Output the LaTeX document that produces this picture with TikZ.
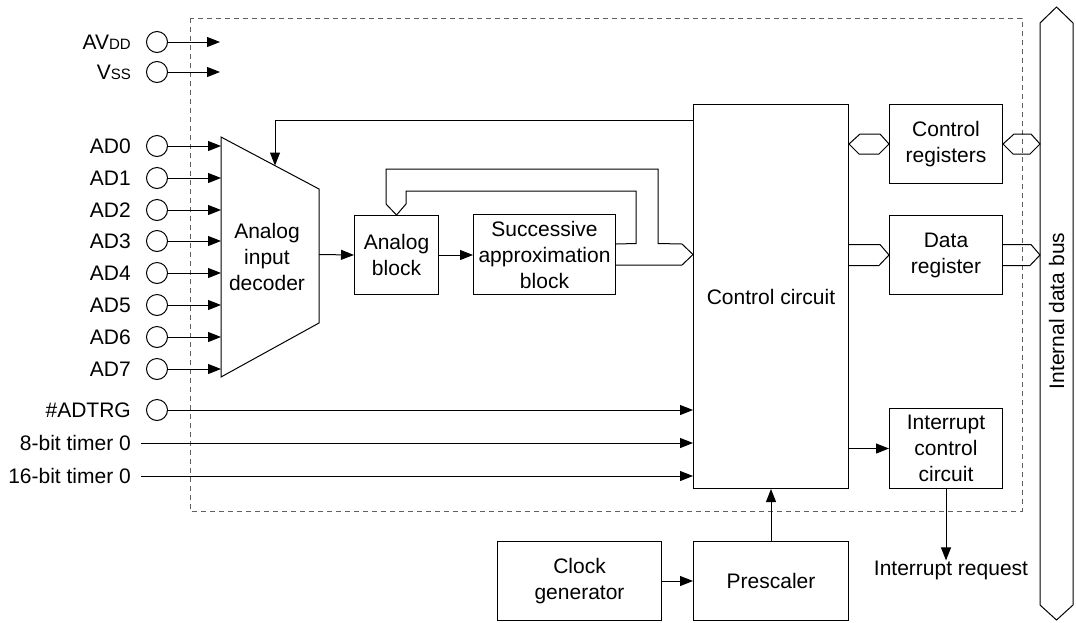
\documentclass[tikz,border=0pt]{standalone}
\usepackage{fontspec}
\setmainfont{Liberation Sans}
\usetikzlibrary{arrows.meta,calc}
\begin{document}
\begin{tikzpicture}[x=1pt,y=-1pt,
  every node/.style={font=\fontsize{21}{26}\selectfont, inner sep=0pt},
  blk/.style={draw, line width=1pt, anchor=north west, align=center},
  pin/.style={circle, draw, line width=1pt, minimum size=21pt, inner sep=0pt},
  ln/.style={line width=1pt},
  arr/.style={line width=1pt, -{Triangle[length=13pt,width=10pt]}},
  dbox/.style={draw=gray!75!black, line width=1pt, dash pattern=on 5pt off 4pt}
]
\useasboundingbox (0,0) rectangle (1076,622);

% dashed module boundary
\draw[dbox] (190,18) rectangle (1022,511);

% internal data bus
\draw[ln] (1040,23) -- (1056.5,7) -- (1073,23) -- (1073,605) -- (1056.5,620) -- (1040,605) -- cycle;
\node[rotate=90] (bus) at (1056.5,311) {Internal data bus};
\coordinate (busL) at (1040,0);

% blocks
\node[blk, minimum width=155pt, minimum height=384pt] (cc) at (693,104) {Control circuit};
\node[blk, minimum width=113pt, minimum height=79pt] (creg) at (889,104) {Control\\registers};
\node[blk, minimum width=113pt, minimum height=79pt] (dreg) at (889,215) {Data\\register};
\node[blk, minimum width=113pt, minimum height=80pt] (intc) at (889,408) {Interrupt\\control\\circuit};
\node[blk, minimum width=84pt, minimum height=79pt] (ab) at (354,215) {Analog\\block};
\node[blk, minimum width=142pt, minimum height=80pt] (sa) at (473,214) {Successive\\approximation\\block};
\node[blk, minimum width=164pt, minimum height=79pt] (clk) at (497,541) {Clock\\generator};
\node[blk, minimum width=155pt, minimum height=79pt] (pre) at (693,541) {Prescaler};

% analog input decoder (trapezoid)
\draw[line width=1pt] (221,137) -- (319,189) -- (319,323) -- (221,377) -- cycle;
\node[align=center] (dec) at (267,257) {Analog\\input\\decoder};
\coordinate (decL) at (221,0);
\coordinate (decout) at (319,254.5);
\coordinate (fbtip) at (275,165.5);
\coordinate (fbrow) at (0,120);

% power pins
\node[anchor=east] (lavdd) at (131,42) {AV{\fontsize{15}{15}\selectfont DD}};
\node[pin] (pavdd) at (157,42) {};
\coordinate (eavdd) at (220,42);
\draw[arr] (pavdd) -- (eavdd);
\node[anchor=east] (lvss) at (131,72) {V{\fontsize{15}{15}\selectfont SS}};
\node[pin] (pvss) at (157,72) {};
\coordinate (evss) at (220,72);
\draw[arr] (pvss) -- (evss);

% analog inputs
\foreach \i/\y in {0/146,1/178,2/210,3/241,4/273,5/305,6/337,7/369}{
  \node[anchor=east] (lad\i) at (131,\y) {AD\i};
  \node[pin] (pad\i) at (157,\y) {};
  \draw[arr] (pad\i) -- (pad\i -| decL);
}

% trigger and timers
\node[anchor=east] (ladtrg) at (131,410) {\#ADTRG};
\node[pin] (padtrg) at (157,410) {};
\draw[arr] (padtrg) -- (padtrg -| cc.west);
\node[anchor=east] (lt8) at (131,443) {8-bit timer 0};
\coordinate (st8) at (141,443);
\draw[arr] (st8) -- (st8 -| cc.west);
\node[anchor=east] (lt16) at (131,476) {16-bit timer 0};
\coordinate (st16) at (141,476);
\draw[arr] (st16) -- (st16 -| cc.west);

% control -> decoder
\draw[arr] (cc.west |- fbrow) -- (fbtip |- fbrow) -- (fbtip);

% signal chain
\draw[arr] (decout) -- (ab.west);
\draw[arr] (ab.east) -- (ab.east -| sa.west);

% SA <-> control circuit / analog block bus
\draw[ln] ($(sa.east)+(0,10.5)$) -- ($(cc.west |- sa.east)+(-11,10.5)$) -- (cc.west |- sa.east)
  -- ($(cc.west |- sa.east)+(-11,-10.5)$) -- (658,243.5) -- (658,169) -- (386,169) -- (386,204) -- (ab.north);
\draw[ln] ($(sa.east)+(0,-10.5)$) -- (636,243.5) -- (636,191) -- (406,191) -- (406,204) -- (ab.north);

% control circuit <-> control registers <-> bus
\draw[ln] (cc.east |- creg.center) -- ++(11,-10) -- ++(20,0) -- (creg.west) -- ++(-10,10) -- ++(-20,0) -- cycle;
\draw[ln] (creg.east) -- ++(11,-10) -- ++(17,0) -- (creg.east -| busL) -- ++(-10,10) -- ++(-17,0) -- cycle;

% control circuit -> data register -> bus
\draw[ln] ($(cc.east |- dreg.center)+(0,-10.5)$) -- ++(31,0) -- (dreg.west) -- ++(-10,10.5) -- ++(-31,0);
\draw[ln] ($(dreg.east)+(0,-10.5)$) -- ++(28,0) -- (dreg.east -| busL) -- ++(-10,10.5) -- ++(-28,0);

% interrupt
\draw[arr] (cc.east |- intc.west) -- (intc.west);
\node (irq) at (951,570) {Interrupt request};
\draw[arr] (intc.south) -- (intc.south |- irq.north);

% clock
\draw[arr] (clk.east) -- (clk.east -| pre.west);
\draw[arr] (pre.north) -- (pre.north |- cc.south);
\end{tikzpicture}
\end{document}
